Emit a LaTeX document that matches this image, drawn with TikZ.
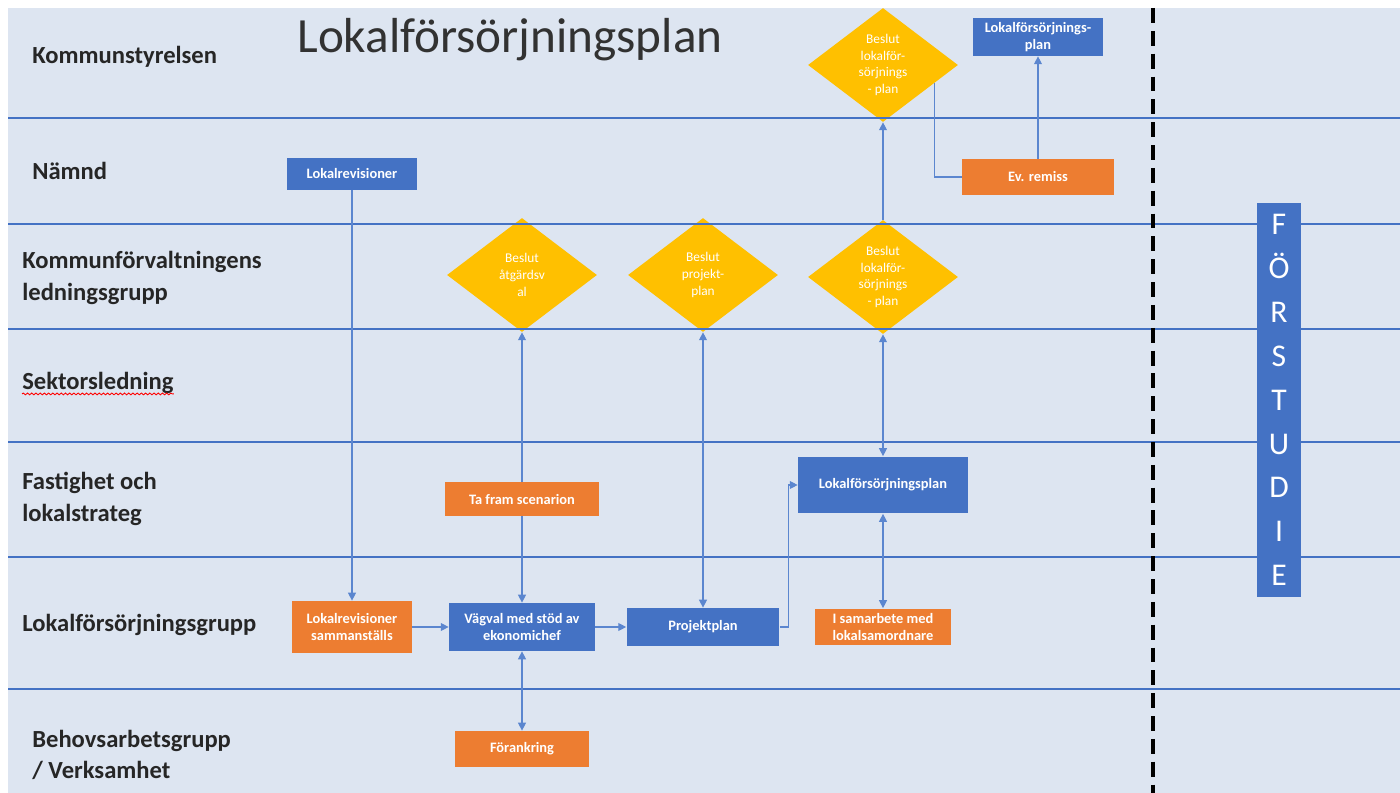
\documentclass[tikz,border=0pt]{standalone}
\usepackage{fontspec}
\setmainfont{Carlito}
\usetikzlibrary{arrows.meta,shapes.geometric,decorations.pathmorphing}

\definecolor{bakgrund}{RGB}{221,229,241}
\definecolor{blafarg}{RGB}{68,114,196}
\definecolor{orangefarg}{RGB}{237,125,49}
\definecolor{guld}{RGB}{255,192,0}
\definecolor{pilfarg}{RGB}{91,134,207}
\definecolor{rubrikfarg}{RGB}{50,50,50}

\tikzset{
  blaruta/.style={fill=blafarg, text=white, align=center, inner sep=1pt,
    font=\fontsize{8.2}{9.8}\selectfont\bfseries},
  orangeruta/.style={fill=orangefarg, text=white, align=center, inner sep=1pt,
    font=\fontsize{8.2}{9.8}\selectfont\bfseries},
  beslut/.style={diamond, aspect=1.3, fill=guld, text=white, align=center, inner sep=0pt,
    minimum width=3cm, minimum height=2.28cm, font=\fontsize{7.6}{9.5}\selectfont},
  bana/.style={anchor=west, align=left, inner sep=0pt, text=black!85,
    font=\fontsize{14}{18}\selectfont\bfseries},
  pil/.style={draw=pilfarg, line width=0.6pt}
}

\begin{document}
\begin{tikzpicture}[x=0.02cm,y=-0.02cm,>={Triangle[length=4.5pt,width=4.5pt]}]
\useasboundingbox (0,0) rectangle (1400,793);
\fill [bakgrund] (8,8) rectangle (1400,793);

% beslut
\node [beslut] (beslutks) at (883,65) {Beslut\\lokalför-\\sörjnings\\- plan};
\node [beslut] (beslutatg) at (522,275) {Beslut\\åtgärdsv\\al};
\node [beslut] (beslutproj) at (703,275) {Beslut\\projekt-\\plan};
\node [beslut] (beslutlfp) at (883,277) {Beslut\\lokalför-\\sörjnings\\- plan};

% banor
\foreach \y in {118,224,329,442,557,689}
  \draw [blafarg, line width=1.6pt] (8,\y) -- (1400,\y);
\draw [black, line width=1.8pt, dash pattern=on 8.5pt off 4.5pt] (1153,8) -- (1153,793);

\node [text=rubrikfarg, font=\fontsize{28}{30}\selectfont] (titel) at (510,40) {Lokalförsörjningsplan};

\node [bana] (ks) at (32,57) {Kommunstyrelsen};
\node [bana] (namnd) at (32,171) {Nämnd};
\node [bana] (klg) at (22,278) {Kommunförvaltningens\\ledningsgrupp};
\node [bana] (sektor) at (22,383) {Sektorsledning};
\node [bana] (fast) at (22,499) {Fastighet och\\lokalstrateg};
\node [bana] (lfg) at (22,625) {Lokalförsörjningsgrupp};
\node [bana] (behov) at (32,755) {Behovsarbetsgrupp\\/ Verksamhet};
\draw [red, line width=0.5pt, decorate, decoration={snake,amplitude=0.5pt,segment length=2.4pt}]
  ([yshift=-2.5pt]sektor.base west) -- ([yshift=-2.5pt]sektor.base east);

% rutor
\node [blaruta, minimum width=2.6cm, minimum height=0.64cm] (lrev) at (352,174) {Lokalrevisioner};
\node [blaruta, minimum width=2.62cm, minimum height=0.76cm] (lfpks) at (1038,37) {Lokalförsörjnings-\\plan};
\node [orangeruta, minimum width=3.04cm, minimum height=0.72cm] (remiss) at (1038,177) {Ev. remiss};
\node [blaruta, minimum width=3.4cm, minimum height=1.14cm] (lfp) at (883,485) {Lokalförsörjningsplan};
\node [orangeruta, minimum width=2.4cm, minimum height=1.04cm] (lsam) at (352,627) {Lokalrevisioner\\sammanställs};
\node [blaruta, minimum width=2.92cm, minimum height=0.96cm] (vagval) at (522,627) {Vägval med stöd av\\ekonomichef};
\node [blaruta, minimum width=3.06cm, minimum height=0.76cm] (pplan) at (703,627) {Projektplan};
\node [orangeruta, minimum width=2.74cm, minimum height=0.74cm] (samarb) at (883,627) {I samarbete med\\lokalsamordnare};
\node [orangeruta, minimum width=2.68cm, minimum height=0.72cm] (forank) at (522,749) {Förankring};
\node [fill=blafarg, text=white, align=center, minimum width=0.88cm, minimum height=7.88cm,
  font=\fontsize{18}{25}\selectfont] (forstudie) at (1279,400) {F\\Ö\\R\\S\\T\\U\\D\\I\\E};

% pilar
\draw [pil, ->] (lrev) -- (lsam);
\draw [pil, ->] (lsam) -- (vagval);
\draw [pil, ->] (vagval) -- (pplan);
\draw [pil, ->] (pplan.east) -- ++(9,0) |- (lfp.west);
\draw [pil, <->] (beslutatg) -- (vagval);
\draw [pil, <->] (vagval) -- (forank);
\draw [pil, <->] (beslutproj) -- (pplan);
\draw [pil, <->] (beslutlfp) -- (lfp);
\draw [pil, <->] (lfp) -- (samarb);
\draw [pil, ->] (beslutlfp) -- (beslutks);
\draw [pil] (beslutks.-19) |- (remiss.west);
\draw [pil, ->] (remiss) -- (lfpks);

\node [orangeruta, minimum width=3.1cm, minimum height=0.7cm] (scen) at (522,499) {Ta fram scenarion};
\end{tikzpicture}
\end{document}
